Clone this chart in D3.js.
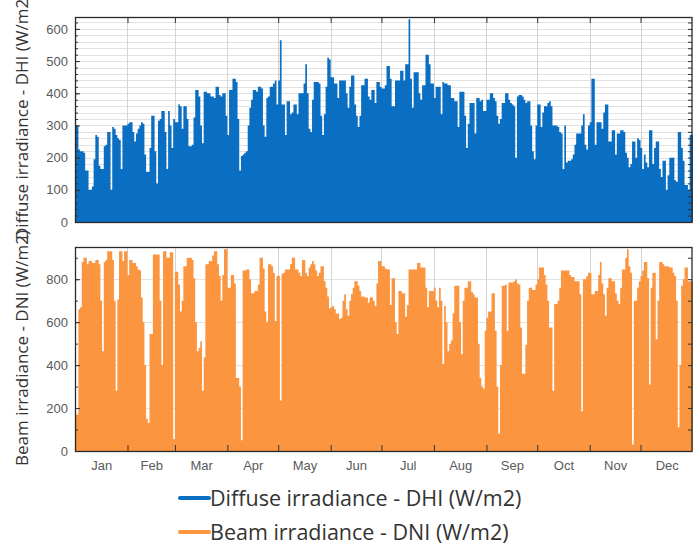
<!DOCTYPE html>
<html>
<head>
<meta charset="utf-8">
<script src="https://cdn.jsdelivr.net/npm/d3@7"></script>
<style>
  body { margin: 0; background: #fff; }
  svg { display: block; font-family: "Open Sans", "Noto Sans", sans-serif; }
  .tick text { fill: #5a5a5a; font-size: 13px; }
  .axis path { display: none; }
  .axis line { stroke: #333; }
  .title { fill: #333; font-size: 17px; }
  .legend text { fill: #333; font-size: 21.5px; }
</style>
</head>
<body>
<script>
// month names and day of year where each month starts
var months = ["Jan", "Feb", "Mar", "Apr", "May", "Jun", "Jul", "Aug", "Sep", "Oct", "Nov", "Dec"];
var monthStarts = [0, 31, 59, 90, 120, 151, 181, 212, 243, 273, 304, 334, 365];

var dhiTicks = [0, 100, 200, 300, 400, 500, 600];
var dniTicks = [0, 200, 400, 600, 800];

// daily peak of diffuse irradiance, W/m2
var dhi = [
  300,300,225,220,220,215,160,160,100,100,
  110,195,270,265,175,165,165,235,240,280,
  280,100,295,290,270,260,255,165,300,300,
  300,305,310,310,280,250,275,290,300,310,
  305,210,155,155,230,330,330,220,120,315,
  320,345,345,280,165,345,300,230,320,310,
  310,365,360,290,360,360,320,235,235,240,
  325,410,410,390,300,245,405,405,400,400,
  390,390,385,420,420,395,390,400,400,330,
  270,410,410,445,445,435,320,160,205,210,
  215,220,300,355,380,410,410,405,420,420,
  415,300,265,385,390,420,420,430,440,365,
  440,565,365,365,270,375,375,335,340,365,
  365,335,400,400,400,430,490,400,290,280,
  380,435,435,435,430,330,270,335,420,510,
  505,450,450,430,430,385,440,440,440,440,
  400,355,420,455,455,365,330,295,330,425,
  425,445,445,390,380,410,410,370,435,435,
  420,415,415,425,485,485,445,360,360,440,
  440,440,470,470,440,490,490,630,445,355,
  465,465,465,400,380,425,425,520,520,490,
  430,430,385,420,420,420,335,435,430,430,
  425,425,385,385,375,375,295,405,405,405,
  330,230,305,370,370,370,275,385,385,375,
  380,345,345,380,380,400,400,385,375,330,
  305,320,370,370,400,400,380,370,365,360,
  200,390,395,395,390,380,370,375,375,300,
  220,195,300,365,365,295,340,360,360,370,
  375,360,300,300,300,295,280,275,165,300,
  185,190,190,195,210,240,275,275,275,300,
  335,240,225,300,310,445,445,240,310,310,
  310,290,340,365,365,250,250,285,285,210,
  275,275,285,285,280,215,200,170,180,250,
  250,200,260,255,230,165,210,185,170,285,
  285,180,230,250,250,165,140,190,190,100,
  145,200,200,200,130,125,280,280,230,190,
  115,115,100,270,270
];

// daily peak of beam irradiance, W/m2
var dni = [
  170,170,660,670,880,900,900,870,885,885,
  875,875,890,890,870,700,465,880,890,930,
  930,930,890,700,280,705,930,930,885,930,
  930,820,890,890,875,875,860,845,840,715,
  600,400,150,130,545,545,915,915,915,915,
  700,400,930,930,900,900,925,925,55,835,
  835,775,650,700,860,860,900,900,900,890,
  805,600,465,480,510,280,435,870,870,885,
  885,910,930,930,870,815,700,820,940,940,
  760,760,820,820,780,340,340,300,50,840,
  840,845,845,800,735,735,745,745,775,900,
  900,850,650,600,870,870,860,830,605,815,
  815,235,825,830,845,845,845,870,900,900,
  845,845,830,815,890,890,830,815,855,870,
  885,870,840,815,830,860,860,790,760,720,
  665,670,675,660,640,640,615,620,700,730,
  660,630,700,730,760,790,790,770,745,720,
  720,715,715,690,715,715,700,675,780,885,
  885,860,860,850,845,845,680,805,805,600,
  545,745,745,735,735,625,680,845,845,845,
  845,845,875,875,855,855,855,760,670,745,
  745,745,760,700,670,760,700,405,675,600,
  465,500,515,640,770,770,770,600,450,700,
  760,760,790,790,740,730,715,715,500,340,
  300,290,560,620,650,650,735,735,560,300,
  80,400,770,770,775,560,785,785,785,790,
  800,780,775,575,360,360,495,700,760,760,
  750,750,775,800,855,855,855,820,775,700,
  575,575,280,685,685,700,760,840,840,840,
  840,840,820,810,810,790,790,790,730,185,
  800,800,815,830,830,730,730,745,745,820,
  880,780,730,630,760,805,805,790,790,735,
  700,685,760,845,845,900,940,860,830,30,
  700,700,760,790,815,840,880,880,805,310,
  760,830,830,520,700,880,880,870,860,860,
  860,855,855,830,815,700,110,400,770,800,
  855,855,790,790,790
];

var dhiColor = "#0a6fc2",
    dniColor = "#fb9540";

var width = 693,
    height = 546,
    left = 75,
    right = 693;

var svg = d3.select("body").append("svg")
    .attr("width", width)
    .attr("height", height);

var x = d3.scaleLinear().domain([0, 365]).range([left, right]);

function drawPanel(values, color, top, bottom, maxVal, ticks, gridStep, minorStep, tickDir) {
    var y = d3.scaleLinear().domain([0, maxVal]).range([bottom, top]);
    var g = svg.append("g");

    // horizontal grid
    g.selectAll(".hgrid")
        .data(d3.range(gridStep, maxVal, gridStep))
        .enter().append("line")
        .attr("x1", left).attr("x2", right)
        .attr("y1", function(d) { return Math.round(y(d)) + 0.5; })
        .attr("y2", function(d) { return Math.round(y(d)) + 0.5; })
        .attr("stroke", "#e2e2e2");

    // vertical grid at month starts
    g.selectAll(".vgrid")
        .data(monthStarts.slice(1, 12))
        .enter().append("line")
        .attr("x1", function(d) { return Math.round(x(d)) + 0.5; })
        .attr("x2", function(d) { return Math.round(x(d)) + 0.5; })
        .attr("y1", top).attr("y2", bottom)
        .attr("stroke", "#d4d4d4");

    // area, one step per day
    var pts = values.map(function(v, i) { return [i, v]; });
    pts.push([365, values[364]]);
    var area = d3.area()
        .curve(d3.curveStepAfter)
        .x(function(d) { return x(d[0]); })
        .y0(y(0))
        .y1(function(d) { return y(d[1]); });
    g.append("path")
        .datum(pts)
        .attr("d", area)
        .attr("fill", color);

    // left axis with labels
    g.append("g")
        .attr("class", "axis")
        .attr("transform", "translate(" + left + ",0)")
        .call(d3.axisLeft(y).tickValues(ticks).tickSize(-5).tickPadding(7));

    // minor ticks left and right
    var minor = d3.range(0, maxVal, minorStep);
    g.append("g")
        .attr("class", "axis")
        .attr("transform", "translate(" + left + ",0)")
        .call(d3.axisLeft(y).tickValues(minor).tickSize(-3).tickFormat(""));
    g.append("g")
        .attr("class", "axis")
        .attr("transform", "translate(" + (right - 1) + ",0)")
        .call(d3.axisRight(y).tickValues(minor).tickSize(-4).tickFormat(""));

    // month ticks
    if (tickDir === "top") {
        g.append("g")
            .attr("class", "axis")
            .attr("transform", "translate(0," + top + ")")
            .call(d3.axisTop(x).tickValues(monthStarts.slice(1, 12)).tickSize(-6).tickFormat(""));
    } else {
        g.append("g")
            .attr("class", "axis")
            .attr("transform", "translate(0," + bottom + ")")
            .call(d3.axisBottom(x).tickValues(monthStarts.slice(1, 12)).tickSize(-6).tickFormat(""));
    }

    // frame
    g.append("rect")
        .attr("x", left + 0.5)
        .attr("y", top + 0.5)
        .attr("width", right - left - 1.5)
        .attr("height", bottom - top)
        .attr("fill", "none")
        .attr("stroke", "#2a2a2a")
        .attr("stroke-width", 1.3);

    return y;
}

drawPanel(dhi, dhiColor, 17, 222, 637, dhiTicks, 20, 20, "top");
drawPanel(dni, dniColor, 247, 451, 950, dniTicks, 200, 100, "bottom");

// month labels
var mids = months.map(function(m, i) { return (monthStarts[i] + monthStarts[i + 1]) / 2; });
svg.append("g")
    .attr("class", "axis")
    .attr("transform", "translate(0,456)")
    .call(d3.axisBottom(x).tickValues(mids).tickSize(0).tickPadding(5)
        .tickFormat(function(d, i) { return months[i]; }));

// axis titles
svg.append("text")
    .attr("class", "title")
    .attr("transform", "translate(28,240) rotate(-90)")
    .text("Diffuse irradiance - DHI (W/m2)");
svg.append("text")
    .attr("class", "title")
    .attr("transform", "translate(28,466) rotate(-90)")
    .text("Beam irradiance - DNI (W/m2)");

// legend
var legend = svg.append("g").attr("class", "legend");
var items = [
    {label: "Diffuse irradiance - DHI (W/m2)", color: dhiColor, y: 498},
    {label: "Beam irradiance - DNI (W/m2)", color: dniColor, y: 532}
];
items.forEach(function(it) {
    legend.append("line")
        .attr("x1", 180).attr("x2", 209)
        .attr("y1", it.y).attr("y2", it.y)
        .attr("stroke", it.color)
        .attr("stroke-width", 4)
        .attr("stroke-linecap", "round");
    legend.append("text")
        .attr("x", 210)
        .attr("y", it.y)
        .attr("dy", "0.35em")
        .text(it.label);
});
</script>
</body>
</html>
